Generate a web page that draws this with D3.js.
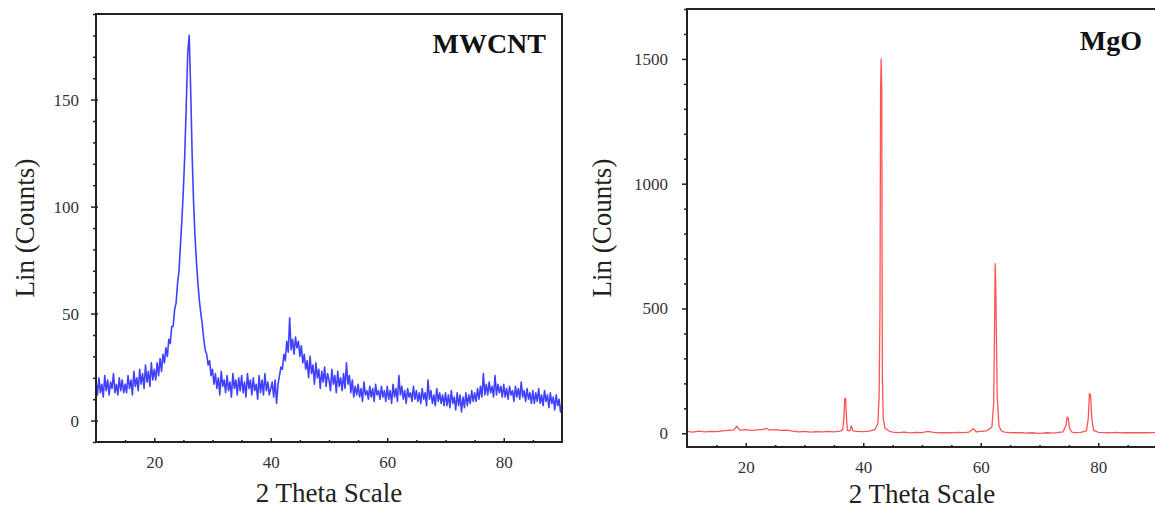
<!DOCTYPE html>
<html>
<head>
<meta charset="utf-8">
<script src="https://cdn.jsdelivr.net/npm/d3@7"></script>
<style>
  html, body { margin: 0; padding: 0; background: #fff; }
  svg { display: block; }
  .tick text { font-family: "Liberation Serif", "Times New Roman", serif; font-size: 17px; fill: #333; }
  .tick line { stroke: #222; stroke-width: 1.5; }
</style>
</head>
<body>
<script>
// MWCNT pattern, scanned from 10 to 90 deg in 0.25 deg steps (counts)
var mwcntStart = 10;
var mwcntStep = 0.25;
var mwcntCounts = [
  18, 12, 20, 13, 17, 11, 21, 14, 19, 12, 18, 15, 22, 13, 17, 12, 20, 14, 19, 13,
  17, 13, 21, 15, 19, 12, 23, 16, 20, 14, 24, 17, 22, 15, 26, 18, 23, 16, 27, 19,
  24, 19, 27, 21, 29, 23, 31, 27, 34, 30, 38, 36, 44, 44, 52, 55, 64, 70, 82, 94,
  108, 125, 148, 172, 180, 155, 125, 102, 86, 74, 64, 56, 50, 45, 38, 33, 31, 26, 28, 21,
  24, 17, 22, 15, 20, 12, 23, 16, 19, 13, 21, 14, 18, 11, 22, 15, 19, 12, 20, 14,
  21, 13, 18, 11, 22, 15, 19, 12, 20, 14, 17, 10, 21, 13, 19, 12, 22, 14, 18, 12,
  15, 18, 11, 19, 8, 17, 21, 25, 24, 31, 28, 37, 32, 48, 33, 38, 31, 39, 34, 37,
  30, 35, 27, 31, 24, 28, 20, 30, 22, 26, 17, 27, 20, 24, 15, 23, 18, 25, 16, 22,
  19, 14, 24, 17, 21, 13, 23, 16, 20, 14, 22, 15, 27, 17, 21, 13, 19, 11, 16, 12,
  17, 11, 15, 9, 18, 12, 14, 10, 16, 11, 15, 9, 17, 12, 14, 10, 16, 11, 14, 9,
  16, 10, 14, 8, 17, 11, 15, 9, 21, 12, 16, 10, 14, 8, 15, 11, 13, 9, 16, 10,
  14, 9, 13, 8, 15, 10, 13, 7, 19, 10, 14, 8, 12, 7, 15, 9, 13, 8, 12, 7,
  13, 7, 12, 6, 14, 8, 11, 5, 13, 7, 12, 4, 11, 6, 13, 7, 12, 8, 14, 9,
  13, 9, 15, 10, 16, 11, 22, 12, 17, 12, 18, 13, 16, 11, 21, 12, 17, 13, 16, 11,
  17, 11, 15, 10, 16, 12, 14, 9, 16, 11, 15, 10, 18, 11, 14, 9, 15, 10, 13, 8,
  14, 8, 13, 9, 15, 8, 12, 7, 14, 9, 12, 6, 13, 8, 11, 5, 12, 7, 10, 4,
  8
];

// MgO pattern (2 theta, counts)
var mgoTheta = [
  10, 11, 12, 13, 14, 15, 16, 17, 18, 18.5, 19, 20, 21, 22, 23, 23.5, 24, 25, 26, 27,
  28, 29, 30, 31, 32, 33, 34, 35, 36, 36.5, 36.7, 36.85, 37.0, 37.15, 37.3, 37.7, 38.0, 38.2, 39, 40,
  41, 42, 42.5, 42.7, 42.85, 42.95, 43.05, 43.15, 43.25, 43.4, 43.7, 44.5, 45, 46, 47, 48, 49, 50, 51, 52,
  53, 54, 55, 56, 57, 58, 58.8, 59.2, 60, 61, 61.9, 62.2, 62.35, 62.45, 62.55, 62.65, 62.8, 63.1, 63.5, 64,
  65, 66, 67, 68, 69, 70, 71, 72, 73, 74, 74.5, 74.7, 74.9, 75.1, 75.5, 76, 77, 78, 78.3, 78.5,
  78.7, 78.9, 79.2, 80, 81, 82, 83, 84, 85, 86, 87, 88, 89, 90
];
var mgoCounts = [
  8, 5, 9, 6, 8, 7, 10, 12, 14, 28, 13, 15, 12, 14, 16, 20, 13, 15, 12, 13,
  9, 6, 8, 5, 7, 6, 8, 6, 9, 14, 60, 140, 140, 60, 12, 10, 30, 10, 8, 7,
  9, 15, 40, 150, 500, 1380, 1500, 1380, 230, 60, 20, 8, 5, 3, 5, 2, 4, 3, 8, 4,
  2, 3, 2, 4, 3, 5, 18, 6, 8, 10, 25, 120, 420, 680, 600, 420, 150, 30, 10, 5,
  3, 2, 3, 1, 2, 0, 2, 1, 3, 6, 30, 65, 60, 20, 5, 3, 4, 10, 60, 160,
  150, 60, 12, 4, 3, 2, 4, 2, 3, 2, 3, 2, 3, 2
];

// tick values
var thetaMajor = [20, 40, 60, 80];
var thetaMinor = [15, 25, 30, 35, 45, 50, 55, 65, 70, 75, 85];
var mwcntMajor = [0, 50, 100, 150];
var mwcntMinor = [-10, 10, 20, 30, 40, 60, 70, 80, 90, 110, 120, 130, 140, 160, 170, 180, 190];
var mgoMajor = [0, 500, 1000, 1500];
var mgoMinor = [100, 200, 300, 400, 600, 700, 800, 900, 1100, 1200, 1300, 1400, 1600, 1700];

var serif = "'Liberation Serif', 'Times New Roman', serif";

var svg = d3.select("body").append("svg").attr("width", 1155).attr("height", 511);
svg.append("rect").attr("width", 1155).attr("height", 511).attr("fill", "#fff");

// one panel of the figure
function drawPanel(p) {
  var x = d3.scaleLinear().domain([10, 90]).range([p.left, p.right]);
  var y = d3.scaleLinear().domain(p.yDomain).range([p.bottom, p.top]);
  var g = svg.append("g");

  // clip to the frame
  g.append("clipPath").attr("id", "clip-" + p.id)
    .append("rect").attr("x", p.left).attr("y", p.top)
    .attr("width", p.right - p.left).attr("height", p.bottom - p.top);

  var line = d3.line().x(function (d) { return x(d.t); }).y(function (d) { return y(d.c); });
  g.append("path").datum(p.data)
    .attr("clip-path", "url(#clip-" + p.id + ")")
    .attr("fill", "none")
    .attr("stroke", p.color)
    .attr("stroke-opacity", p.opacity)
    .attr("stroke-width", p.width)
    .attr("stroke-linejoin", "round")
    .attr("d", line);

  // x axis: major and minor ticks point inward
  g.append("g").attr("transform", "translate(0," + p.bottom + ")")
    .call(d3.axisBottom(x).tickValues(thetaMajor).tickSize(-4).tickPadding(14).tickFormat(d3.format("d")))
    .call(function (a) { a.select(".domain").remove(); });
  g.append("g").attr("transform", "translate(0," + p.bottom + ")")
    .call(d3.axisBottom(x).tickValues(thetaMinor).tickSize(-2).tickFormat(""))
    .call(function (a) { a.select(".domain").remove(); });

  // y axis
  g.append("g").attr("transform", "translate(" + p.left + ",0)")
    .call(d3.axisLeft(y).tickValues(p.yMajor).tickSize(5).tickPadding(p.yPad).tickFormat(d3.format("d")))
    .call(function (a) {
      a.select(".domain").remove();
      a.selectAll(".tick line").attr("x1", p.crossTicks ? 2 : 0);
    });
  g.append("g").attr("transform", "translate(" + p.left + ",0)")
    .call(d3.axisLeft(y).tickValues(p.yMinor).tickSize(3).tickFormat(""))
    .call(function (a) {
      a.select(".domain").remove();
      a.selectAll(".tick line").attr("stroke-width", 1);
    });

  // frame
  g.append("rect").attr("x", p.left).attr("y", p.top)
    .attr("width", p.right - p.left).attr("height", p.bottom - p.top)
    .attr("fill", "none").attr("stroke", "#222").attr("stroke-width", 2);

  // axis titles
  g.append("text").attr("x", (p.left + p.right) / 2).attr("y", p.xTitleY)
    .attr("text-anchor", "middle").attr("font-family", serif).attr("font-size", 27)
    .attr("fill", "#222").text("2 Theta Scale");
  g.append("text")
    .attr("transform", "translate(" + p.yTitleX + "," + (p.top + p.bottom) / 2 + ") rotate(-90)")
    .attr("text-anchor", "middle").attr("font-family", serif).attr("font-size", 27)
    .attr("fill", "#222").text("Lin (Counts)");

  // sample name
  g.append("text").attr("x", p.nameX).attr("y", p.nameY)
    .attr("text-anchor", "end").attr("font-family", serif).attr("font-weight", "bold")
    .attr("font-size", 28).attr("fill", "#111").text(p.name);
}

drawPanel({
  id: "mwcnt", name: "MWCNT",
  data: mwcntCounts.map(function (c, i) { return { t: mwcntStart + i * mwcntStep, c: c }; }),
  left: 96, right: 562, top: 14, bottom: 442,
  yDomain: [-10, 190], yMajor: mwcntMajor, yMinor: mwcntMinor, yPad: 12, crossTicks: true,
  color: "#0000ff", opacity: 0.75, width: 1.6,
  xTitleY: 502, yTitleX: 34, nameX: 546, nameY: 53
});

drawPanel({
  id: "mgo", name: "MgO",
  data: mgoTheta.map(function (t, i) { return { t: t, c: mgoCounts[i] }; }),
  left: 687, right: 1157, top: 9, bottom: 447,
  yDomain: [-55, 1700], yMajor: mgoMajor, yMinor: mgoMinor, yPad: 14, crossTicks: false,
  color: "#ff1a1a", opacity: 0.75, width: 1.3,
  xTitleY: 503, yTitleX: 611, nameX: 1142, nameY: 50
});
</script>
</body>
</html>
